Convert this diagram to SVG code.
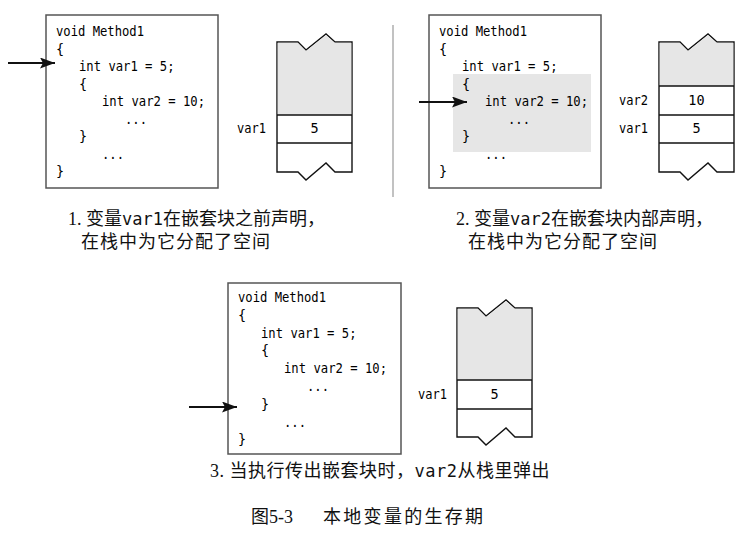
<svg xmlns="http://www.w3.org/2000/svg" width="747" height="534" viewBox="0 0 747 534">
<style>
.code{font-family:"DejaVu Sans Mono","Liberation Mono",monospace;font-size:13.5px;fill:#000}
.box{fill:#fff;stroke:#555;stroke-width:1.5}
.stk{fill:#fff;stroke:#111;stroke-width:1.4}
.gray{fill:#e6e6e6;stroke:none}
.sep{stroke:#111;stroke-width:1.4}
.cap{font-family:"Liberation Serif","Noto Sans CJK SC",serif;font-size:18px;fill:#111}
.mono{font-family:"DejaVu Sans Mono","Liberation Mono",monospace;font-size:17px}
.arr{stroke:#111;stroke-width:2;fill:none}
.mid{text-anchor:middle}
</style>
<defs>
<marker id="ah" markerUnits="userSpaceOnUse" markerWidth="16" markerHeight="12" refX="15" refY="5.5" orient="auto">
<path d="M0,0 L15,5.5 L0,11 L3,5.5 Z" fill="#111"/>
</marker>
</defs>

<g id="panel1">
<rect class="box" x="46" y="15" width="172" height="173"/>
<text class="code" x="56" y="36" textLength="88" lengthAdjust="spacingAndGlyphs">void Method1</text>
<text class="code" x="56" y="53.5">{</text>
<text class="code" x="79" y="71" textLength="95.5" lengthAdjust="spacingAndGlyphs">int var1 = 5;</text>
<text class="code" x="79" y="88.5">{</text>
<text class="code" x="102" y="106" textLength="103" lengthAdjust="spacingAndGlyphs">int var2 = 10;</text>
<text class="code" x="125" y="123.5" textLength="22" lengthAdjust="spacingAndGlyphs">...</text>
<text class="code" x="79" y="141">}</text>
<text class="code" x="102" y="158.5" textLength="22" lengthAdjust="spacingAndGlyphs">...</text>
<text class="code" x="56" y="176">}</text>
</g>
<g id="stack1">
<path class="stk" d="M277,42 H298 L306,50 L326,34 L335,42 H352 V172 H335 L326,163 L306,180 L298,172 H277 Z"/>
<path class="gray" d="M277.7,42.7 H297.7 L306,51 L326,35 L334.7,42.7 H351.3 V115 H277.7 Z"/>
<line class="sep" x1="277" y1="115" x2="352" y2="115"/>
<line class="sep" x1="277" y1="143" x2="352" y2="143"/>
<text class="code" x="237" y="133" textLength="29" lengthAdjust="spacingAndGlyphs">var1</text>
<text class="code mid" x="314.5" y="133">5</text>
</g>
<g id="caption1">
<text class="cap" x="68" y="225">1. 变量<tspan class="mono">var1</tspan>在嵌套块之前声明，</text>
<text class="cap" x="81" y="248" letter-spacing="1">在栈中为它分配了空间</text>
</g>

<line id="divider" x1="393" y1="25" x2="393" y2="197" stroke="#999" stroke-width="1.2"/>

<g id="panel2">
<rect class="box" x="429" y="15" width="172" height="173"/>
<rect class="gray" x="453" y="74" width="138" height="78"/>
<text class="code" x="439" y="36" textLength="88" lengthAdjust="spacingAndGlyphs">void Method1</text>
<text class="code" x="439" y="53.5">{</text>
<text class="code" x="462" y="71" textLength="95.5" lengthAdjust="spacingAndGlyphs">int var1 = 5;</text>
<text class="code" x="462" y="88.5">{</text>
<text class="code" x="485" y="106" textLength="103" lengthAdjust="spacingAndGlyphs">int var2 = 10;</text>
<text class="code" x="508" y="123.5" textLength="22" lengthAdjust="spacingAndGlyphs">...</text>
<text class="code" x="462" y="141">}</text>
<text class="code" x="485" y="158.5" textLength="22" lengthAdjust="spacingAndGlyphs">...</text>
<text class="code" x="439" y="176">}</text>
</g>
<g id="stack2">
<path class="stk" d="M659,42 H680 L688,50 L708,34 L717,42 H734 V172 H717 L708,163 L688,180 L680,172 H659 Z"/>
<path class="gray" d="M659.7,42.7 H679.7 L688,51 L708,35 L716.7,42.7 H733.3 V86 H659.7 Z"/>
<line class="sep" x1="659" y1="86" x2="734" y2="86"/>
<line class="sep" x1="659" y1="115" x2="734" y2="115"/>
<line class="sep" x1="659" y1="143" x2="734" y2="143"/>
<text class="code" x="619" y="104.5" textLength="29" lengthAdjust="spacingAndGlyphs">var2</text>
<text class="code mid" x="696.5" y="104.5">10</text>
<text class="code" x="619" y="133" textLength="29" lengthAdjust="spacingAndGlyphs">var1</text>
<text class="code mid" x="696.5" y="133">5</text>
</g>
<g id="caption2">
<text class="cap" x="456" y="225">2. 变量<tspan class="mono">var2</tspan>在嵌套块内部声明，</text>
<text class="cap" x="468" y="248" letter-spacing="1">在栈中为它分配了空间</text>
</g>

<g id="panel3">
<rect class="box" x="228" y="283" width="173" height="171"/>
<text class="code" x="238" y="302" textLength="88" lengthAdjust="spacingAndGlyphs">void Method1</text>
<text class="code" x="238" y="319.8">{</text>
<text class="code" x="261" y="337.6" textLength="95.5" lengthAdjust="spacingAndGlyphs">int var1 = 5;</text>
<text class="code" x="261" y="355.4">{</text>
<text class="code" x="284" y="373.2" textLength="103" lengthAdjust="spacingAndGlyphs">int var2 = 10;</text>
<text class="code" x="307" y="391" textLength="22" lengthAdjust="spacingAndGlyphs">...</text>
<text class="code" x="261" y="408.8">}</text>
<text class="code" x="284" y="426.6" textLength="22" lengthAdjust="spacingAndGlyphs">...</text>
<text class="code" x="238" y="444.4">}</text>
</g>
<g id="stack3">
<path class="stk" d="M457,308 H478 L486,316 L506,300 L515,308 H532 V437 H515 L506,428 L486,445 L478,437 H457 Z"/>
<path class="gray" d="M457.7,308.7 H477.7 L486,317 L506,301 L514.7,308.7 H531.3 V380 H457.7 Z"/>
<line class="sep" x1="457" y1="380" x2="532" y2="380"/>
<line class="sep" x1="457" y1="409" x2="532" y2="409"/>
<text class="code" x="418" y="398.5" textLength="29" lengthAdjust="spacingAndGlyphs">var1</text>
<text class="code mid" x="494.5" y="398.5">5</text>
</g>
<g id="caption3">
<text class="cap" x="210" y="477" letter-spacing="0.5">3. 当执行传出嵌套块时，<tspan class="mono">var2</tspan>从栈里弹出</text>
</g>

<g id="connectors">
<line class="arr" x1="8" y1="63" x2="55" y2="63" marker-end="url(#ah)"/>
<line class="arr" x1="419" y1="102" x2="467" y2="102" marker-end="url(#ah)"/>
<line class="arr" x1="189" y1="407" x2="237" y2="407" marker-end="url(#ah)"/>
</g>

<g id="title">
<text class="cap" x="251" y="523" font-size="19">图5-3<tspan x="323" letter-spacing="2.3">本地变量的生存期</tspan></text>
</g>
</svg>
